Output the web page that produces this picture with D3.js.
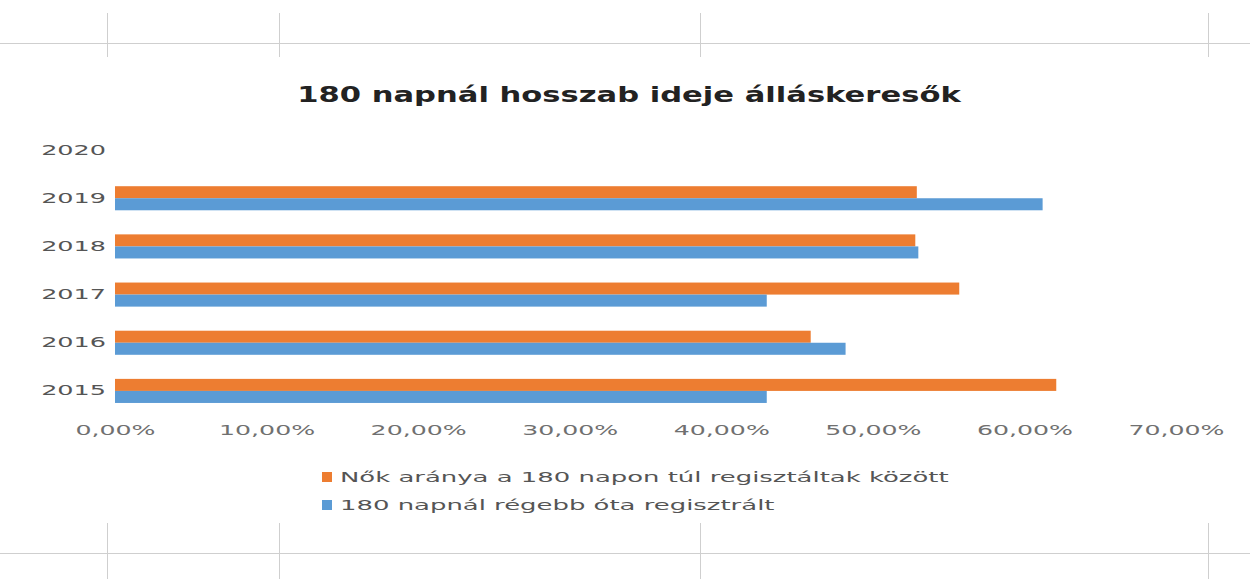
<!DOCTYPE html>
<html>
<head>
<meta charset="utf-8">
<script src="https://cdn.jsdelivr.net/npm/d3@7"></script>
<style>
  body { margin: 0; background: #fff; }
  text { font-family: "DejaVu Sans", sans-serif; }
</style>
</head>
<body>
<div id="chart"></div>
<script>
// Data
const years = ["2015", "2016", "2017", "2018", "2019", "2020"];
const seriesNames = [
    "Nők aránya a 180 napon túl regisztáltak között",
    "180 napnál régebb óta regisztrált"
];
const womenShare = [0.621, 0.459, 0.557, 0.528, 0.529, null];
const over180 = [0.430, 0.482, 0.430, 0.530, 0.612, null];
const xTicks = [0, 0.1, 0.2, 0.3, 0.4, 0.5, 0.6, 0.7];
const colors = ["#ED7D31", "#5B9BD5"];

const W = 1250, H = 579;

const svg = d3.select("#chart")
    .append("svg")
    .attr("width", W)
    .attr("height", H);

// Stretch text horizontally (the source picture is a widened scan)
function stretch(sel, factor) {
    sel.each(function() {
        const len = this.getComputedTextLength();
        d3.select(this)
            .attr("textLength", len * factor)
            .attr("lengthAdjust", "spacingAndGlyphs");
    });
}

// Spreadsheet cell borders around the pasted chart
const grid = svg.append("g")
    .attr("stroke", "#cfcfcf")
    .attr("stroke-width", 1);
grid.append("line").attr("x1", 0).attr("x2", W).attr("y1", 43.5).attr("y2", 43.5);
grid.append("line").attr("x1", 0).attr("x2", W).attr("y1", 553.5).attr("y2", 553.5);
[107.5, 279.5, 700.5, 1208.5].forEach(x => {
    grid.append("line").attr("x1", x).attr("x2", x).attr("y1", 13).attr("y2", 57);
    grid.append("line").attr("x1", x).attr("x2", x).attr("y1", 523).attr("y2", H);
});

// Rows: combine values per year
const rows = years.map((y, i) => ({
    year: y,
    values: [
        {name: seriesNames[0], value: womenShare[i]},
        {name: seriesNames[1], value: over180[i]}
    ]
}));

// Scales
const x = d3.scaleLinear()
    .domain([0, 0.7])
    .range([115, 1176]);

const y = d3.scaleBand()
    .domain(years.slice().reverse())
    .range([126, 415])
    .padding(0);

const ySub = d3.scaleBand()
    .domain(seriesNames)
    .range([0, y.bandwidth()])
    .paddingInner(0)
    .paddingOuter(1);

const color = d3.scaleOrdinal()
    .domain(seriesNames)
    .range(colors);

const huLocale = d3.formatLocale({
    decimal: ",",
    thousands: " ",
    grouping: [3],
    currency: ["", " Ft"],
    percent: "%"
});

// Title
const title = svg.append("text")
    .attr("x", 629)
    .attr("y", 102)
    .attr("text-anchor", "middle")
    .style("font-size", "22px")
    .style("font-weight", "bold")
    .attr("fill", "#222")
    .text("180 napnál hosszab ideje álláskeresők");
stretch(title, 1.39);

// Bars
const groups = svg.selectAll(".row")
    .data(rows)
    .enter()
    .append("g")
    .attr("class", "row")
    .attr("transform", d => `translate(0,${y(d.year)})`);

groups.selectAll("rect")
    .data(d => d.values.filter(v => v.value != null))
    .enter()
    .append("rect")
    .attr("x", x(0))
    .attr("y", d => ySub(d.name))
    .attr("width", d => x(d.value) - x(0))
    .attr("height", ySub.bandwidth())
    .attr("fill", d => color(d.name));

// X axis
const xAxis = svg.append("g")
    .attr("transform", "translate(0,415)")
    .call(d3.axisBottom(x)
        .tickValues(xTicks)
        .tickFormat(huLocale.format(".2%"))
        .tickSize(0)
        .tickPadding(10));
xAxis.select(".domain").remove();
xAxis.selectAll("text")
    .style("font-size", "14px")
    .style("font-family", "DejaVu Sans, sans-serif")
    .attr("fill", "#707070")
    .call(stretch, 1.8);

// Y axis
const yAxis = svg.append("g")
    .attr("transform", `translate(${x(0)},0)`)
    .call(d3.axisLeft(y).tickSize(0).tickPadding(9));
yAxis.select(".domain").remove();
yAxis.selectAll("text")
    .style("font-size", "14px")
    .style("font-family", "DejaVu Sans, sans-serif")
    .attr("fill", "#555")
    .call(stretch, 1.82);

// Legend
const legend = svg.append("g")
    .attr("transform", "translate(322,472)");

seriesNames.forEach((name, i) => {
    legend.append("rect")
        .attr("x", 0)
        .attr("y", i * 28)
        .attr("width", 10)
        .attr("height", 10)
        .attr("fill", color(name));

    const t = legend.append("text")
        .attr("x", 18)
        .attr("y", i * 28 + 5)
        .attr("dy", "0.35em")
        .style("font-size", "14px")
        .attr("fill", "#555")
        .text(name);
    stretch(t, 1.85);
});
</script>
</body>
</html>
